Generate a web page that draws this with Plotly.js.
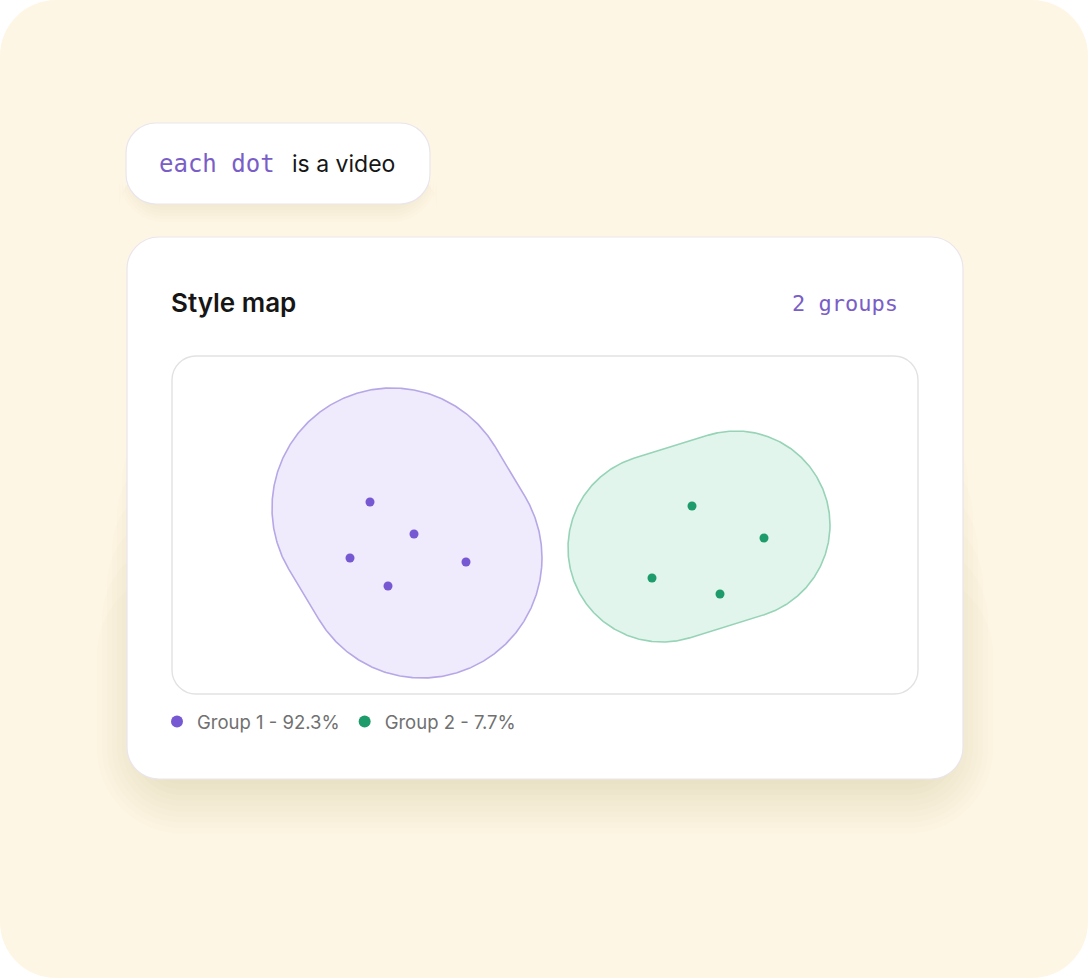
<!DOCTYPE html>
<html>
<head>
<meta charset="utf-8">
<script src="https://cdn.plot.ly/plotly-3.0.1.min.js"></script>
<style>
html,body{margin:0;padding:0;background:#ffffff;}
#chart{width:1088px;height:978px;}
</style>
</head>
<body>
<div id="chart"></div>
<script>
// ---- data (embedding coordinates) ----
const groupNames = ['Group 1', 'Group 2'];
const groupShares = [92.3, 7.7];
const group1X = [-1.75, -1.31, -1.95, -0.79, -1.57];
const group1Y = [0.23, -0.09, -0.33, -0.37, -0.61];
const group2X = [1.47, 2.19, 1.07, 1.75];
const group2Y = [0.19, -0.13, -0.53, -0.69];
// cluster regions: capsule = segment between two centres, padded by radius
const group1RegionX = [-1.53, -1.23];
const group1RegionY = [0.17, -0.33];
const group1RegionR = 1.20;
const group2RegionX = [1.17, 1.91];
const group2RegionY = [-0.23, 0.00];
const group2RegionR = 0.94;
const titleText = 'Style map';
const groupCountText = '2 groups';

// ---- page geometry ----
const W = 1088, H = 978;
const fx = v => v / W;
const fy = v => 1 - v / H;

function capsule(cx, cy, r) {
  const xs = [], ys = [];
  const dx = cx[1] - cx[0], dy = cy[1] - cy[0];
  const n = 720;
  for (let i = 0; i <= n; i++) {
    const t = 2 * Math.PI * i / n;
    const ux = Math.cos(t), uy = Math.sin(t);
    const k = (ux * dx + uy * dy) >= 0 ? 1 : 0;
    xs.push(cx[k] + r * ux);
    ys.push(cy[k] + r * uy);
  }
  return {x: xs, y: ys};
}

function rr(x0, y0, x1, y1, r) {
  const k = 0.5523 * r;
  const P = (x, y) => fx(x).toFixed(6) + ',' + fy(y).toFixed(6);
  return 'M' + P(x0 + r, y0) +
    ' L' + P(x1 - r, y0) +
    ' C' + P(x1 - r + k, y0) + ' ' + P(x1, y0 + r - k) + ' ' + P(x1, y0 + r) +
    ' L' + P(x1, y1 - r) +
    ' C' + P(x1, y1 - r + k) + ' ' + P(x1 - r + k, y1) + ' ' + P(x1 - r, y1) +
    ' L' + P(x0 + r, y1) +
    ' C' + P(x0 + r - k, y1) + ' ' + P(x0, y1 - r + k) + ' ' + P(x0, y1 - r) +
    ' L' + P(x0, y0 + r) +
    ' C' + P(x0, y0 + r - k) + ' ' + P(x0 + r - k, y0) + ' ' + P(x0 + r, y0) + ' Z';
}

const shapes = [];
// cream backdrop
shapes.push({type:'path', xref:'paper', yref:'paper', path: rr(0, 0, W, H, 56),
  fillcolor:'#FEF6E4', line:{width:0}, layer:'below'});
// pill shadow
for (let i = 0; i < 6; i++) {
  const s = i * 3;
  shapes.push({type:'path', xref:'paper', yref:'paper',
    path: rr(134 - s, 150 + s, 422 + s, 204 + 3 + s, 30 + s),
    fillcolor:'rgba(130,105,60,0.016)', line:{width:0}, layer:'below'});
}
shapes.push({type:'path', xref:'paper', yref:'paper', path: rr(126, 123, 430, 204, 30),
  fillcolor:'#ffffff', line:{color:'#E9E5EC', width:1.2}, layer:'below'});
// card shadow (soft, cast downward)
for (let i = 0; i < 10; i++) {
  const s = i * 5;
  shapes.push({type:'path', xref:'paper', yref:'paper',
    path: rr(142 - s, 300 + s * 6, 948 + s, 784 + s * 1.1, 40 + s),
    fillcolor:'rgba(130,105,60,0.016)', line:{width:0}, layer:'below'});
}
shapes.push({type:'path', xref:'paper', yref:'paper', path: rr(127, 237, 963, 779, 32),
  fillcolor:'#ffffff', line:{color:'#E9E5EC', width:1.2}, layer:'below'});
// plot frame
shapes.push({type:'path', xref:'paper', yref:'paper', path: rr(172, 356, 918, 694, 24),
  fillcolor:'#ffffff', line:{color:'#E2E2E2', width:1.4}, layer:'below'});

const annotations = [
  {xref:'paper', yref:'paper', x: fx(157), y: fy(164), xanchor:'left', yanchor:'middle', showarrow:false,
   text:'each dot', font:{family:'DejaVu Sans Mono', size:24, color:'#7A5EC8'}},
  {xref:'paper', yref:'paper', x: fx(290), y: fy(164), xanchor:'left', yanchor:'middle', showarrow:false,
   text:'is a video', font:{family:'Inter', size:23, color:'#161616'}},
  {xref:'paper', yref:'paper', x: fx(169), y: fy(302), xanchor:'left', yanchor:'middle', showarrow:false,
   text: titleText, font:{family:'Inter', size:26, color:'#161616', weight:600}},
  {xref:'paper', yref:'paper', x: fx(900), y: fy(303), xanchor:'right', yanchor:'middle', showarrow:false,
   text: groupCountText, font:{family:'DejaVu Sans Mono', size:22, color:'#7A5EC8'}}
];

const reg1 = capsule(group1RegionX, group1RegionY, group1RegionR);
const reg2 = capsule(group2RegionX, group2RegionY, group2RegionR);

const purple = '#7658D3', green = '#1E9B6A';
const traces = [
  {type:'scatter', mode:'lines', x: reg1.x, y: reg1.y, fill:'toself',
   fillcolor:'#EFEAFC', line:{color:'#B7A7E6', width:1.6}, showlegend:false, hoverinfo:'skip'},
  {type:'scatter', mode:'lines', x: reg2.x, y: reg2.y, fill:'toself',
   fillcolor:'#E1F5EC', line:{color:'#96D3B7', width:1.6}, showlegend:false, hoverinfo:'skip'},
  {type:'scatter', mode:'markers', x: group1X, y: group1Y,
   name: groupNames[0] + ' - ' + groupShares[0] + '%', marker:{color: purple, size:9}},
  {type:'scatter', mode:'markers', x: group2X, y: group2Y,
   name: groupNames[1] + ' - ' + groupShares[1] + '%', marker:{color: green, size:9}}
];

const layout = {
  width: W, height: H,
  margin:{l:0, r:0, t:0, b:0},
  paper_bgcolor:'#ffffff', plot_bgcolor:'rgba(0,0,0,0)',
  xaxis:{domain:[fx(172), fx(918)], range:[-3.73, 3.73], visible:false, fixedrange:true},
  yaxis:{domain:[fy(694), fy(356)], range:[-1.69, 1.69], visible:false, fixedrange:true},
  showlegend:true,
  legend:{orientation:'h', x: fx(157), y: fy(722), xanchor:'left', yanchor:'middle',
    font:{family:'Inter', size:18.5, color:'#707070'}, itemsizing:'constant',
    bgcolor:'rgba(0,0,0,0)', traceorder:'normal'},
  shapes: shapes,
  annotations: annotations,
  hovermode:false
};

Plotly.newPlot('chart', traces, layout, {displayModeBar:false, staticPlot:true});
</script>
</body>
</html>
